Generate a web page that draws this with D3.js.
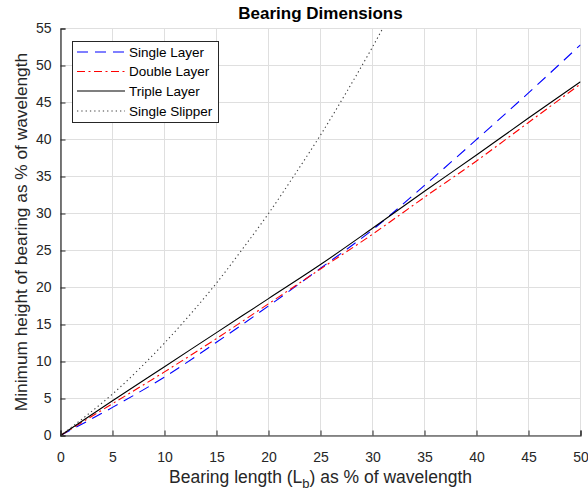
<!DOCTYPE html>
<html>
<head>
<meta charset="utf-8">
<script src="https://cdn.jsdelivr.net/npm/d3@7"></script>
<style>
  html, body { margin: 0; padding: 0; background: #fff; }
  svg { display: block; font-family: "Liberation Sans", Arial, Helvetica, sans-serif; }
</style>
</head>
<body>
<svg id="chart" width="588" height="493"></svg>
<script>
// Bearing length (% of wavelength) at which each curve is sampled
const lengthPts = [0, 5, 10, 15, 20, 25, 30, 35, 40, 45, 50];
// Minimum bearing height (% of wavelength) for each configuration
const singleLayer = [0, 3.8, 7.9, 12.6, 17.5, 22.6, 27.8, 33.8, 40.0, 46.3, 52.8];
const doubleLayer = [0, 4.3, 8.6, 13.1, 17.8, 22.5, 27.2, 32.2, 37.1, 42.3, 47.5];
const tripleLayer = [0, 4.7, 9.3, 13.9, 18.5, 23.1, 28.0, 33.0, 37.9, 42.9, 47.8];
// Single slipper curve, sampled more finely since it bends upward
const slipperLength = [0, 2.5, 5, 7.5, 10, 12.5, 15, 17.5, 20, 22.5, 25, 27.5, 30, 32.5];
const singleSlipper = [0, 2.7, 5.6, 8.9, 12.5, 16.4, 20.6, 25.2, 30.0, 35.2, 40.6, 46.4, 52.5, 59.0];

const xTicks = [0, 5, 10, 15, 20, 25, 30, 35, 40, 45, 50];
const yTicks = [0, 5, 10, 15, 20, 25, 30, 35, 40, 45, 50, 55];

const seriesNames = ["Single Layer", "Double Layer", "Triple Layer", "Single Slipper"];

const svg = d3.select("#chart");
const margin = { left: 60.5, right: 7.5, top: 28.5, bottom: 57.5 };
const W = 588, H = 493;

const x = d3.scaleLinear().domain([0, 50]).range([margin.left, W - margin.right]);
const y = d3.scaleLinear().domain([0, 55]).range([H - margin.bottom, margin.top]);

const axisColor = "#262626";
const gridColor = "#dfdfdf";

// grid
const grid = svg.append("g");
grid.selectAll("line.vx").data(xTicks).join("line")
  .attr("x1", d => x(d)).attr("x2", d => x(d))
  .attr("y1", y(0)).attr("y2", y(55))
  .attr("stroke", gridColor).attr("stroke-width", 1);
grid.selectAll("line.hy").data(yTicks).join("line")
  .attr("x1", x(0)).attr("x2", x(50))
  .attr("y1", d => y(d)).attr("y2", d => y(d))
  .attr("stroke", gridColor).attr("stroke-width", 1);

// clip region for the data lines
svg.append("defs").append("clipPath").attr("id", "plotClip")
  .append("rect")
  .attr("x", x(0)).attr("y", y(55))
  .attr("width", x(50) - x(0)).attr("height", y(0) - y(55));

const line = d3.line().x(d => x(d[0])).y(d => y(d[1])).curve(d3.curveMonotoneX);

const series = [
  { name: seriesNames[0], xs: lengthPts, ys: singleLayer, color: "#0000ff", dash: "11,7", width: 1.1 },
  { name: seriesNames[1], xs: lengthPts, ys: doubleLayer, color: "#ff0000", dash: "8,3.5,2,3.5", width: 1.1 },
  { name: seriesNames[2], xs: lengthPts, ys: tripleLayer, color: "#000000", dash: null, width: 1.1 },
  { name: seriesNames[3], xs: slipperLength, ys: singleSlipper, color: "#404040", dash: "1.3,3", width: 1.1 }
];

const plot = svg.append("g").attr("clip-path", "url(#plotClip)");
series.forEach(s => {
  plot.append("path")
    .datum(s.xs.map((v, i) => [v, s.ys[i]]))
    .attr("d", line)
    .attr("fill", "none")
    .attr("stroke", s.color)
    .attr("stroke-width", s.width)
    .attr("stroke-dasharray", s.dash);
});

// axes (ticks pointing inward)
const xAxis = svg.append("g").attr("transform", `translate(0,${y(0)})`)
  .call(d3.axisBottom(x).tickValues(xTicks).tickSize(-5).tickPadding(17).tickFormat(d3.format("d")));
const yAxis = svg.append("g").attr("transform", `translate(${x(0)},0)`)
  .call(d3.axisLeft(y).tickValues(yTicks).tickSize(-5).tickPadding(9).tickFormat(d3.format("d")));

[xAxis, yAxis].forEach(a => {
  a.select(".domain").attr("stroke", axisColor).attr("stroke-width", 1.2);
  a.selectAll(".tick line").attr("stroke", axisColor);
  a.selectAll(".tick text").attr("fill", axisColor).style("font-size", "14px")
    .style("font-family", "'Liberation Sans', Arial, sans-serif");
});

// title
svg.append("text")
  .attr("x", (x(0) + x(50)) / 2).attr("y", 19)
  .attr("text-anchor", "middle")
  .style("font-size", "17px").style("font-weight", "bold")
  .attr("fill", "#000")
  .text("Bearing Dimensions");

// x label with subscript
const xl = svg.append("text")
  .attr("x", (x(0) + x(50)) / 2).attr("y", 483)
  .attr("text-anchor", "middle")
  .style("font-size", "17.5px").attr("fill", axisColor);
xl.append("tspan").text("Bearing length (L");
xl.append("tspan").attr("dy", 5).style("font-size", "13px").text("b");
xl.append("tspan").attr("dy", -5).text(") as % of wavelength");

// y label
svg.append("text")
  .attr("transform", `translate(27,${(y(0) + y(55)) / 2}) rotate(-90)`)
  .attr("text-anchor", "middle")
  .style("font-size", "17.3px").attr("fill", axisColor)
  .text("Minimum height of bearing as % of wavelength");

// legend
const lg = svg.append("g");
lg.append("rect")
  .attr("x", 72.5).attr("y", 41.5).attr("width", 146).attr("height", 81)
  .attr("fill", "#fff").attr("stroke", axisColor).attr("stroke-width", 1);
const rowY = [52, 71.5, 91, 111];
series.forEach((s, i) => {
  lg.append("line")
    .attr("x1", 77).attr("x2", 125)
    .attr("y1", rowY[i]).attr("y2", rowY[i])
    .attr("stroke", s.color).attr("stroke-width", s.width)
    .attr("stroke-dasharray", s.dash);
  lg.append("text")
    .attr("x", 129).attr("y", rowY[i]).attr("dy", "0.35em")
    .style("font-size", "13.5px").attr("fill", "#000")
    .text(s.name);
});
</script>
</body>
</html>
